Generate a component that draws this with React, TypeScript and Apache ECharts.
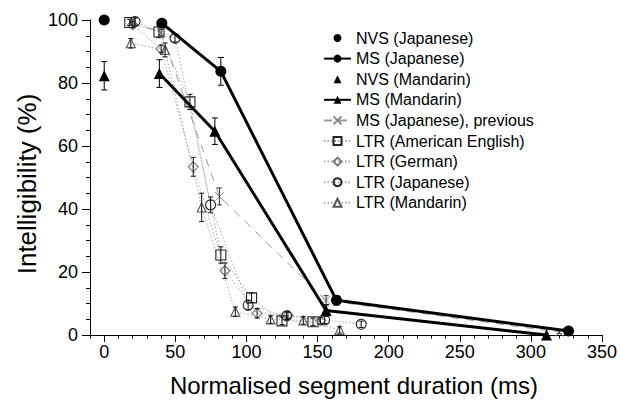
import React, { useEffect, useRef } from "react";
import * as echarts from "echarts";

// ---- data (x: normalised segment duration in ms, y: intelligibility %) ----
const nvsJapanese: number[][] = [[0, 100]];
const nvsJapaneseErr: number[] = [0];
const msJapanese: number[][] = [[40.5, 99], [82, 83.7], [163.3, 11], [326.5, 1.3]];
const msJapaneseErr: number[] = [0.8, 4.4, 1.5, 0.6];
const nvsMandarin: number[][] = [[0, 82.3]];
const nvsMandarinErr: number[] = [4.5];
const msMandarin: number[][] = [[38.8, 83], [77.8, 64.7], [156, 7.8], [311, 0]];
const msMandarinErr: number[] = [4.4, 4.2, 1.8, 0];
const msJapanesePrev: number[][] = [[19.5, 99.2], [40, 96], [81, 44], [156, 11], [320, 0.9]];
const msJapanesePrevErr: number[] = [1, 1, 2.7, 1.5, 0.5];
const ltrAmericanEnglish: number[][] = [[18, 99.2], [38.5, 96.2], [60.3, 74], [82, 25.4], [103.6, 11.8], [125, 4.5], [146.8, 4.2]];
const ltrAmericanEnglishErr: number[] = [1, 1.8, 2.4, 2.6, 1.5, 1.2, 1.2];
const ltrGerman: number[][] = [[20, 98.5], [40, 90.8], [62.6, 53.4], [84.9, 20.4], [107.5, 6.9], [129.2, 6.3], [152, 4.5]];
const ltrGermanErr: number[] = [1, 1.2, 3, 2.5, 1.5, 1, 1];
const ltrJapanese: number[][] = [[21.7, 99.5], [49.8, 94.2], [74.8, 41.3], [101.2, 9.5], [128.3, 6.1], [155, 4.8], [180.7, 3.4]];
const ltrJapaneseErr: number[] = [1.2, 1.2, 2.5, 1.5, 1.2, 1.2, 1];
const ltrMandarin: number[][] = [[18.7, 92.6], [42.8, 90.5], [68.5, 40.5], [92.2, 7.4], [117, 4.9], [140, 4.6], [165.5, 1.6]];
const ltrMandarinErr: number[] = [1.5, 2.2, 4.5, 1.5, 1.2, 1.2, 1];

const xMajorTicks: number[] = [0, 50, 100, 150, 200, 250, 300, 350];
const yTicks: number[] = [0, 20, 40, 60, 80, 100];

const legendNames: string[] = [
  "NVS (Japanese)",
  "MS (Japanese)",
  "NVS (Mandarin)",
  "MS (Mandarin)",
  "MS (Japanese), previous",
  "LTR (American English)",
  "LTR (German)",
  "LTR (Japanese)",
  "LTR (Mandarin)",
];

const FONT = "'Liberation Sans', Arial, Helvetica, sans-serif";
const X_SYMBOL = "path://M0,0L10,10M10,0L0,10";

function errData(points: number[][], errs: number[]) {
  return points
    .map((p, i) => [p[0], p[1] - errs[i], p[1] + errs[i], errs[i]])
    .filter((d) => d[3] > 0);
}

function errSeries(points: number[][], errs: number[], color: string, cap: number) {
  return {
    type: "custom",
    silent: true,
    z: 4,
    clip: false,
    data: errData(points, errs),
    encode: { x: 0, y: [1, 2] },
    renderItem: (_params: any, api: any) => {
      const x = api.value(0);
      const lo = api.coord([x, api.value(1)]);
      const hi = api.coord([x, api.value(2)]);
      const style = { stroke: color, lineWidth: 1 };
      return {
        type: "group",
        children: [
          { type: "line", shape: { x1: lo[0], y1: lo[1], x2: hi[0], y2: hi[1] }, style },
          { type: "line", shape: { x1: lo[0] - cap, y1: lo[1], x2: lo[0] + cap, y2: lo[1] }, style },
          { type: "line", shape: { x1: hi[0] - cap, y1: hi[1], x2: hi[0] + cap, y2: hi[1] }, style },
        ],
      };
    },
  };
}

function ltrSeries(name: string, data: number[][], symbol: string, size: number, border: string) {
  return {
    name,
    type: "line",
    data,
    clip: false,
    z: 3,
    symbol,
    symbolSize: size,
    showAllSymbol: true,
    lineStyle: { color: "#aaaaaa", width: 1, type: [1.5, 2] },
    itemStyle: { color: "rgba(255,255,255,0)", borderColor: border, borderWidth: 1.1 },
  };
}

function markerOnly(name: string, data: number[][], symbol: string) {
  return {
    name,
    type: "line",
    data,
    clip: false,
    z: 5,
    symbol,
    symbolSize: 11,
    showAllSymbol: true,
    lineStyle: { color: "#000", width: 0, opacity: 0 },
    itemStyle: { color: "#000", opacity: 1 },
  };
}

export default function App() {
  const ref = useRef<HTMLDivElement>(null);
  useEffect(() => {
    if (!ref.current) return;
    const chart = echarts.init(ref.current, null, { renderer: "svg" });
    const minorX: number[] = [];
    for (let v = -10; v <= 350; v += 10) if (v % 50 !== 0) minorX.push(v);

    chart.setOption({
      animation: false,
      backgroundColor: "#ffffff",
      grid: { left: 90, right: 17, top: 20, bottom: 72, containLabel: false },
      xAxis: [
        {
          type: "value",
          min: -10,
          max: 350,
          position: "bottom",
          axisLine: { show: true, onZero: false, lineStyle: { color: "#000", width: 1 } },
          axisTick: { show: true, customValues: xMajorTicks, length: 7, lineStyle: { color: "#000" } },
          axisLabel: { customValues: xMajorTicks, fontSize: 18, color: "#000", fontFamily: FONT, margin: 8 },
          splitLine: { show: false },
        },
        {
          type: "value",
          min: -10,
          max: 350,
          position: "bottom",
          axisLine: { show: false, onZero: false },
          axisTick: { show: true, customValues: minorX, length: 3.5, lineStyle: { color: "#000" } },
          axisLabel: { show: false },
          splitLine: { show: false },
        },
      ],
      yAxis: {
        type: "value",
        min: 0,
        max: 100,
        interval: 20,
        axisLine: { show: true, onZero: false, lineStyle: { color: "#000", width: 1 } },
        axisTick: { show: true, length: 8, lineStyle: { color: "#000" } },
        minorTick: { show: true, splitNumber: 4, length: 4, lineStyle: { color: "#000" } },
        axisLabel: {
          fontSize: 18,
          color: "#000",
          fontFamily: FONT,
          margin: 12,
          customValues: yTicks,
        },
        splitLine: { show: false },
      },
      legend: {
        data: legendNames,
        orient: "vertical",
        left: 318,
        top: 25,
        itemWidth: 27,
        itemHeight: 10,
        itemGap: 4.6,
        selectedMode: false,
        textStyle: { fontSize: 16, color: "#000", fontFamily: FONT, lineHeight: 16 },
      },
      graphic: [
        {
          type: "text",
          x: 354,
          y: 385,
          style: {
            text: "Normalised segment duration (ms)",
            font: `24px ${FONT}`,
            fill: "#000",
            textAlign: "center",
            textVerticalAlign: "middle",
          },
        },
        {
          type: "text",
          x: 27,
          y: 184,
          rotation: Math.PI / 2,
          style: {
            text: "Intelligibility (%)",
            font: `26px ${FONT}`,
            fill: "#000",
            textAlign: "center",
            textVerticalAlign: "middle",
          },
        },
      ],
      series: [
        ltrSeries("LTR (American English)", ltrAmericanEnglish, "rect", 10, "#222"),
        ltrSeries("LTR (German)", ltrGerman, "diamond", 10, "#777"),
        ltrSeries("LTR (Japanese)", ltrJapanese, "circle", 10, "#222"),
        ltrSeries("LTR (Mandarin)", ltrMandarin, "triangle", 9, "#555"),
        {
          name: "MS (Japanese), previous",
          type: "line",
          data: msJapanesePrev,
          clip: false,
          z: 3,
          symbol: X_SYMBOL,
          symbolSize: 9,
          lineStyle: { color: "#999", width: 1, type: [8, 7] },
          itemStyle: { color: "rgba(255,255,255,0)", borderColor: "#888", borderWidth: 1 },
        },
        markerOnly("NVS (Japanese)", nvsJapanese, "circle"),
        {
          name: "MS (Japanese)",
          type: "line",
          data: msJapanese,
          clip: false,
          z: 5,
          symbol: "circle",
          symbolSize: 11,
          lineStyle: { color: "#000", width: 3 },
          itemStyle: { color: "#000" },
        },
        markerOnly("NVS (Mandarin)", nvsMandarin, "triangle"),
        {
          name: "MS (Mandarin)",
          type: "line",
          data: msMandarin,
          clip: false,
          z: 5,
          symbol: "triangle",
          symbolSize: 11,
          lineStyle: { color: "#000", width: 3 },
          itemStyle: { color: "#000" },
        },
        errSeries(ltrAmericanEnglish, ltrAmericanEnglishErr, "#111", 2.5),
        errSeries(ltrGerman, ltrGermanErr, "#111", 2.5),
        errSeries(ltrJapanese, ltrJapaneseErr, "#111", 2.5),
        errSeries(ltrMandarin, ltrMandarinErr, "#111", 2.5),
        errSeries(msJapanesePrev, msJapanesePrevErr, "#333", 2.5),
        errSeries(nvsJapanese, nvsJapaneseErr, "#000", 3),
        errSeries(msJapanese, msJapaneseErr, "#000", 3),
        errSeries(nvsMandarin, nvsMandarinErr, "#000", 3),
        errSeries(msMandarin, msMandarinErr, "#000", 3),
      ],
    });
    return () => chart.dispose();
  }, []);

  return (
    <div
      ref={ref}
      style={{ position: "fixed", left: 0, top: 0, width: 620, height: 407, background: "#fff" }}
    />
  );
}
